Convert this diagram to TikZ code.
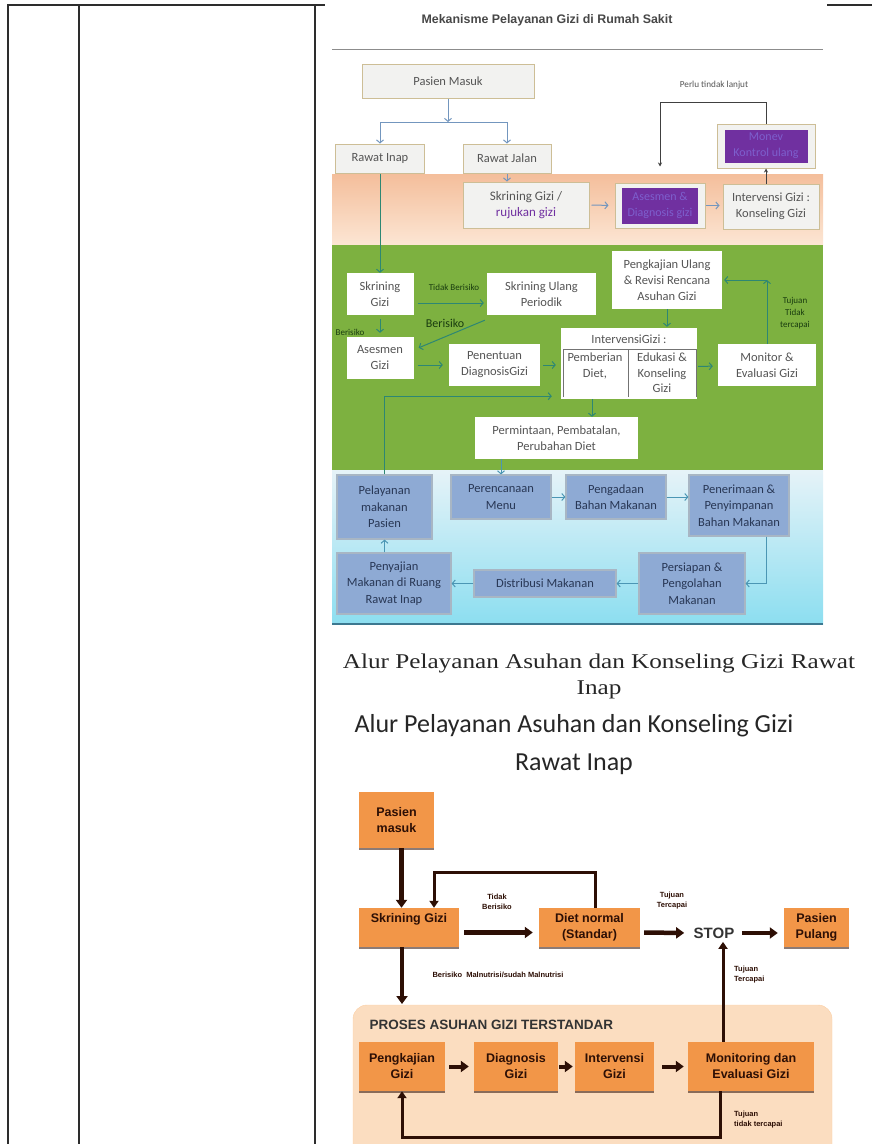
\documentclass[tikz,border=0pt]{standalone}
\usepackage{fontspec}
\setmainfont{Carlito}
\newfontfamily\arialfont{Liberation Sans}
\newfontfamily\cambriafont[FakeStretch=1.2]{Liberation Serif}
\usetikzlibrary{arrows.meta,shadows}
\definecolor{garistabel}{RGB}{45,45,45}
\definecolor{abumuda}{RGB}{242,242,240}
\definecolor{tanborder}{RGB}{205,190,150}
\definecolor{teksabu}{RGB}{85,85,85}
\definecolor{biruatas}{RGB}{115,150,190}
\definecolor{ungu}{RGB}{112,48,160}
\definecolor{teksungu}{RGB}{125,95,205}
\definecolor{hijaulatar}{RGB}{125,177,64}
\definecolor{hijaupanah}{RGB}{45,135,115}
\definecolor{hijautua}{RGB}{25,60,15}
\definecolor{birukotak}{RGB}{142,170,212}
\definecolor{biruborder}{RGB}{168,182,196}
\definecolor{teksbiru}{RGB}{40,55,85}
\definecolor{birupanah}{RGB}{75,150,180}
\definecolor{oranyekotak}{RGB}{242,150,72}
\definecolor{coklattua}{RGB}{45,15,5}
\definecolor{peach}{RGB}{251,221,192}
\begin{document}
\begin{tikzpicture}[x=1pt,y=-1pt,
    kotak/.style={rectangle, draw=tanborder, fill=abumuda, line width=1pt, text=teksabu, align=center, inner sep=0pt, font=\fontsize{12.5}{16}\selectfont},
    kotakungu/.style={rectangle, fill=ungu, text=teksungu, align=center, inner sep=0pt, font=\fontsize{12}{16}\selectfont},
    putih/.style={rectangle, fill=white, text=teksabu, align=center, inner sep=0pt, font=\fontsize{12.5}{16}\selectfont},
    teks/.style={text=teksabu, align=center, inner sep=0pt, font=\fontsize{12.5}{15.5}\selectfont},
    biru/.style={rectangle, draw=biruborder, fill=birukotak, line width=1.2pt, text=teksbiru, align=center, inner sep=0pt, font=\fontsize{12.5}{16.5}\selectfont},
    labelkecil/.style={text=hijautua, align=center, inner sep=0pt, font=\fontsize{9}{12}\selectfont},
    oranye/.style={rectangle, fill=oranyekotak, text=coklattua, align=center, inner sep=0pt, font=\arialfont\bfseries\fontsize{12.5}{16}\selectfont, drop shadow={shadow xshift=0pt, shadow yshift=-1.5pt, fill=coklattua, opacity=0.55}},
    catatan/.style={text=coklattua, align=left, inner sep=0pt, font=\arialfont\bfseries\fontsize{7.5}{10}\selectfont},
    panahabu/.style={-{Straight Barb[length=3pt,width=7pt]}, draw=biruatas, line width=1pt},
    panahgelap/.style={-{Stealth[length=4pt,width=4pt]}, draw=black!75, line width=1pt},
    panahhijau/.style={-{Straight Barb[length=3pt,width=7pt]}, draw=hijaupanah, line width=1pt},
    panahbiru/.style={-{Straight Barb[length=3pt,width=7pt]}, draw=birupanah, line width=1pt},
    tebal/.style={-{Triangle[length=8pt,width=11pt]}, draw=coklattua, line width=4.5pt},
    tipis/.style={-{Triangle[length=7pt,width=9pt]}, draw=coklattua, line width=3pt}
    ]
    \useasboundingbox (0,0) rectangle (872,1144);
    % garis tabel
    \draw[garistabel, line width=1.5pt] (8,1144) -- (8,5) -- (325,5);
    \draw[garistabel, line width=1.5pt] (79,5) -- (79,1144);
    \draw[garistabel, line width=1.5pt] (315,5) -- (315,1144);
    \draw[garistabel, line width=1.5pt] (827,5) -- (872,5);

    % latar bagan atas
    \shade[top color={rgb,255:red,244;green,190;blue,155}, bottom color={rgb,255:red,252;green,230;blue,212}] (332,174) rectangle (823,245);
    \fill[hijaulatar] (332,245) rectangle (823,470);
    \shade[top color={rgb,255:red,230;green,243;blue,248}, bottom color={rgb,255:red,140;green,222;blue,240}] (332,470) rectangle (823,624);
    \draw[birupanah!80!black, line width=1.5pt] (332,624) -- (823,624);

    \node[font=\arialfont\bfseries\fontsize{12.4}{14}\selectfont, text=black!72] (judul) at (547,20) {Mekanisme Pelayanan Gizi di Rumah Sakit};
    \draw[black!45, line width=1pt] (332,49) -- (823,49);

    \node[kotak, minimum width=172, minimum height=34] (pasien) at (448,81) {Pasien Masuk};
    \node[kotak, minimum width=89, minimum height=29] (inap) at (380,158.5) {Rawat Inap};
    \node[kotak, minimum width=88, minimum height=29] (jalan) at (507,158.5) {Rawat Jalan};
    \coordinate (cabang) at (448,122);
    \draw[panahabu] (pasien.south) -- (cabang);
    \draw[panahabu] (cabang) -| (inap.north);
    \draw[panahabu] (cabang) -| (jalan.north);

    \node[kotak, minimum width=98, minimum height=44] (monev) at (766,146) {};
    \node[kotakungu, minimum width=83, minimum height=33] (monevisi) at (monev) {Monev\\Kontrol ulang};
    \node[teks, font=\fontsize{9.2}{11}\selectfont] (perlu) at (714,85) {Perlu tindak lanjut};

    \node[kotak, minimum width=126, minimum height=46, font=\fontsize{13}{16}\selectfont] (rujukan) at (526,205) {Skrining Gizi /\\\textcolor{ungu}{rujukan gizi}};
    \node[kotak, minimum width=90, minimum height=45] (asesmen) at (660,205.5) {};
    \node[kotakungu, minimum width=76, minimum height=36] (asesmenisi) at (asesmen) {Asesmen \&\\Diagnosis gizi};
    \node[kotak, minimum width=96, minimum height=45] (konseling) at (771,206.5) {Intervensi Gizi :\\Konseling Gizi};
    \draw[panahabu] (jalan.south) -- (jalan.south |- rujukan.north);
    \draw[panahabu, shorten <=2pt, shorten >=6pt] (rujukan.east) -- (asesmen.west);
    \draw[panahabu, shorten >=3pt] (asesmen.east) -- (asesmen.east -| konseling.west);
    \draw[panahgelap] (monev.south |- konseling.north) -- (monev.south);
    \draw[panahgelap, shorten >=16pt] (monev.north) -- ++(0,-21) -| (asesmen.north);

    % bagian hijau
    \node[putih, minimum width=67, minimum height=42] (skrining) at (380,294) {Skrining\\Gizi};
    \node[putih, minimum width=109, minimum height=42] (ulang) at (541.5,294) {Skrining Ulang\\Periodik};
    \node[putih, minimum width=67, minimum height=42] (asesgizi) at (380,358) {Asesmen\\Gizi};
    \node[putih, minimum width=91, minimum height=42] (diagnosis) at (494.5,365) {Penentuan\\DiagnosisGizi};
    \node[putih, minimum width=136, minimum height=71] (intervensi) at (629,363.5) {};
    \node[teks] (judulint) at (629,339) {IntervensiGizi :};
    \node[teks] (diet) at (595,366) {Pemberian\\Diet,};
    \node[teks] (edukasi) at (662,373) {Edukasi \&\\Konseling\\Gizi};
    \draw[black!55, line width=1pt] (563,397) -- (563,349) -- (696,349) -- (696,397) (628,349) -- (628,397);
    \node[putih, minimum width=98, minimum height=42] (monitor) at (767,365) {Monitor \&\\Evaluasi Gizi};
    \node[putih, minimum width=110, minimum height=58] (kajiulang) at (667,280) {Pengkajian Ulang\\\& Revisi Rencana\\Asuhan Gizi};
    \node[putih, minimum width=163, minimum height=42] (permintaan) at (556.5,438) {Permintaan, Pembatalan,\\Perubahan Diet};

    \node[labelkecil] (tidakberisiko) at (454,287) {Tidak Berisiko};
    \node[labelkecil] (berisikokecil) at (350,332) {Berisiko};
    \node[labelkecil, font=\fontsize{12}{14}\selectfont] (berisiko) at (445,323) {Berisiko};
    \node[labelkecil] (tujuantidak) at (795,313) {Tujuan\\Tidak\\tercapai};

    \draw[panahhijau] (inap.south) -- (skrining.north);
    \draw[panahhijau, shorten <=4pt, shorten >=3pt] ([yshift=-9pt]skrining.east) -- ([yshift=-9pt]ulang.west);
    \draw[panahhijau, shorten <=4pt, shorten >=4pt] (skrining.south) -- (asesgizi.north);
    \draw[panahhijau] ([xshift=-2pt,yshift=-5pt]ulang.south west) -- ([xshift=5pt,yshift=-11pt]asesgizi.north east);
    \draw[panahhijau, shorten <=4pt, shorten >=6pt] (asesgizi.east |- diagnosis.west) -- (diagnosis.west);
    \draw[panahhijau, shorten <=3pt, shorten >=5pt] (diagnosis.east) -- (diagnosis.east -| intervensi.west);
    \draw[panahhijau, shorten <=1pt, shorten >=5pt] ([yshift=-3pt]intervensi.east) -- ([yshift=-1pt]monitor.west);
    \coordinate (sudut) at (monitor.north |- kajiulang.east);
    \draw[panahhijau] (monitor.north) -- (sudut);
    \draw[panahhijau, shorten >=2pt] (sudut) -- (kajiulang.east);
    \draw[panahhijau, shorten >=1pt] (kajiulang.south) -- (kajiulang.south |- intervensi.north);
    \draw[panahhijau] ([xshift=-37pt]intervensi.south) -- ([xshift=-37pt]intervensi.south |- permintaan.north);

    % bagian biru
    \node[biru, minimum width=95, minimum height=64] (pelayanan) at (384.5,507) {Pelayanan\\makanan\\Pasien};
    \node[biru, minimum width=100, minimum height=44] (perencanaan) at (501,497) {Perencanaan\\Menu};
    \node[biru, minimum width=100, minimum height=44] (pengadaan) at (616,497) {Pengadaan\\Bahan Makanan};
    \node[biru, minimum width=100, minimum height=61] (penerimaan) at (739,505.5) {Penerimaan \&\\Penyimpanan\\Bahan Makanan};
    \node[biru, minimum width=106, minimum height=61] (persiapan) at (692,583.5) {Persiapan \&\\Pengolahan\\Makanan};
    \node[biru, minimum width=142, minimum height=27] (distribusi) at (545,583.5) {Distribusi Makanan};
    \node[biru, minimum width=114, minimum height=61] (penyajian) at (394,583.5) {Penyajian\\Makanan di Ruang\\Rawat Inap};

    \draw[panahbiru] (permintaan.south -| perencanaan.north) -- (perencanaan.north);
    \draw[panahhijau, shorten >=9pt] (pelayanan.north) |- ([yshift=3pt]intervensi.south west);
    \draw[panahbiru] (perencanaan.east) -- (pengadaan.west);
    \draw[panahbiru] (pengadaan.east) -- (pengadaan.east -| penerimaan.west);
    \draw[panahbiru] ([xshift=27pt]penerimaan.south) |- (persiapan.east);
    \draw[panahbiru] (persiapan.west) -- (distribusi.east);
    \draw[panahbiru] (distribusi.west) -- (penyajian.east);
    \draw[panahbiru] (pelayanan.south |- penyajian.north) -- (pelayanan.south);

    % judul bagan bawah
    \node[font=\cambriafont\fontsize{21}{26}\selectfont, align=center, text=black!85] (judul1) at (599,676) {Alur Pelayanan Asuhan dan Konseling Gizi Rawat\\Inap};
    \node[font=\fontsize{26}{38}\selectfont, align=center, text=black!85] (judul2) at (574,745) {Alur Pelayanan Asuhan dan Konseling Gizi\\Rawat Inap};

    % bagan oranye
    \fill[peach, draw=peach!85!orange, rounded corners=14pt] (353,1160) -- (353,1005) -- (832,1005) -- (832,1160);
    \node[font=\arialfont\bfseries\fontsize{13.5}{15}\selectfont, text=black!80, anchor=west] (proses) at (366,1025) {PROSES ASUHAN GIZI TERSTANDAR};
    \coordinate (prosesatas) at (402,1004);

    \node[oranye, minimum width=75, minimum height=56] (masuk) at (396.5,820) {Pasien\\masuk};
    \node[oranye, minimum width=100, minimum height=39] (skrining2) at (409,927.5) {Skrining Gizi\\[4pt]};
    \node[oranye, minimum width=101, minimum height=39] (dietnormal) at (589.5,927.5) {Diet normal\\(Standar)};
    \node[font=\arialfont\bfseries\fontsize{15}{17}\selectfont, text=black!80] (stop) at (714,933) {STOP};
    \node[oranye, minimum width=65, minimum height=39] (pulang) at (816.5,927.5) {Pasien\\Pulang};

    \node[oranye, minimum width=86, minimum height=49] (pengkajian) at (402,1066.5) {Pengkajian\\Gizi};
    \node[oranye, minimum width=84, minimum height=49] (diagnosis2) at (516,1066.5) {Diagnosis\\Gizi};
    \node[oranye, minimum width=79, minimum height=49] (intervensi2) at (614.5,1066.5) {Intervensi\\Gizi};
    \node[oranye, minimum width=126, minimum height=49] (monitoring) at (751,1066.5) {Monitoring dan\\Evaluasi Gizi};

    \node[catatan, align=center] (tidak2) at (497,902) {Tidak\\Berisiko};
    \node[catatan, align=center] (tercapai1) at (672,901) {Tujuan\\Tercapai};
    \node[catatan] (malnutrisi) at (498,975) {Berisiko~~Malnutrisi/sudah Malnutrisi};
    \node[catatan, anchor=west] (tercapai2) at (734,975) {Tujuan\\Tercapai};
    \node[catatan, anchor=west] (tidaktercapai) at (734,1120) {Tujuan\\tidak tercapai};

    \draw[tebal] ([xshift=5pt]masuk.south) -- ([xshift=5pt]masuk.south |- skrining2.north);
    \draw[tipis] ([xshift=6pt]dietnormal.north) -- ++(0,-35) -| ([xshift=25pt]skrining2.north);
    \draw[tebal, shorten <=5pt, shorten >=6pt] ([yshift=-5pt]skrining2.east) -- ([yshift=-5pt]dietnormal.west);
    \draw[tebal, shorten <=4pt, shorten >=6pt] ([yshift=-5pt]dietnormal.east) -- (stop.west);
    \draw[tebal, shorten <=4pt, shorten >=6pt] (stop.east) -- (stop.east -| pulang.west);
    \draw[tebal] (prosesatas |- skrining2.south) -- (prosesatas);
    \draw[tipis] ([xshift=-28pt]monitoring.north) -- ([xshift=-28pt]monitoring.north |- stop.south);
    \draw[tipis] ([xshift=-31pt]monitoring.south) -- ++(0,46) -| (pengkajian.south);
    \draw[tebal, line width=4pt, shorten <=4pt, shorten >=5pt] (pengkajian.east) -- (diagnosis2.west);
    \draw[tebal, line width=4pt, shorten <=1pt, shorten >=2pt] (diagnosis2.east) -- (intervensi2.west);
    \draw[tebal, line width=4pt, shorten <=8pt, shorten >=4pt] (intervensi2.east) -- (monitoring.west);
\end{tikzpicture}
\end{document}
